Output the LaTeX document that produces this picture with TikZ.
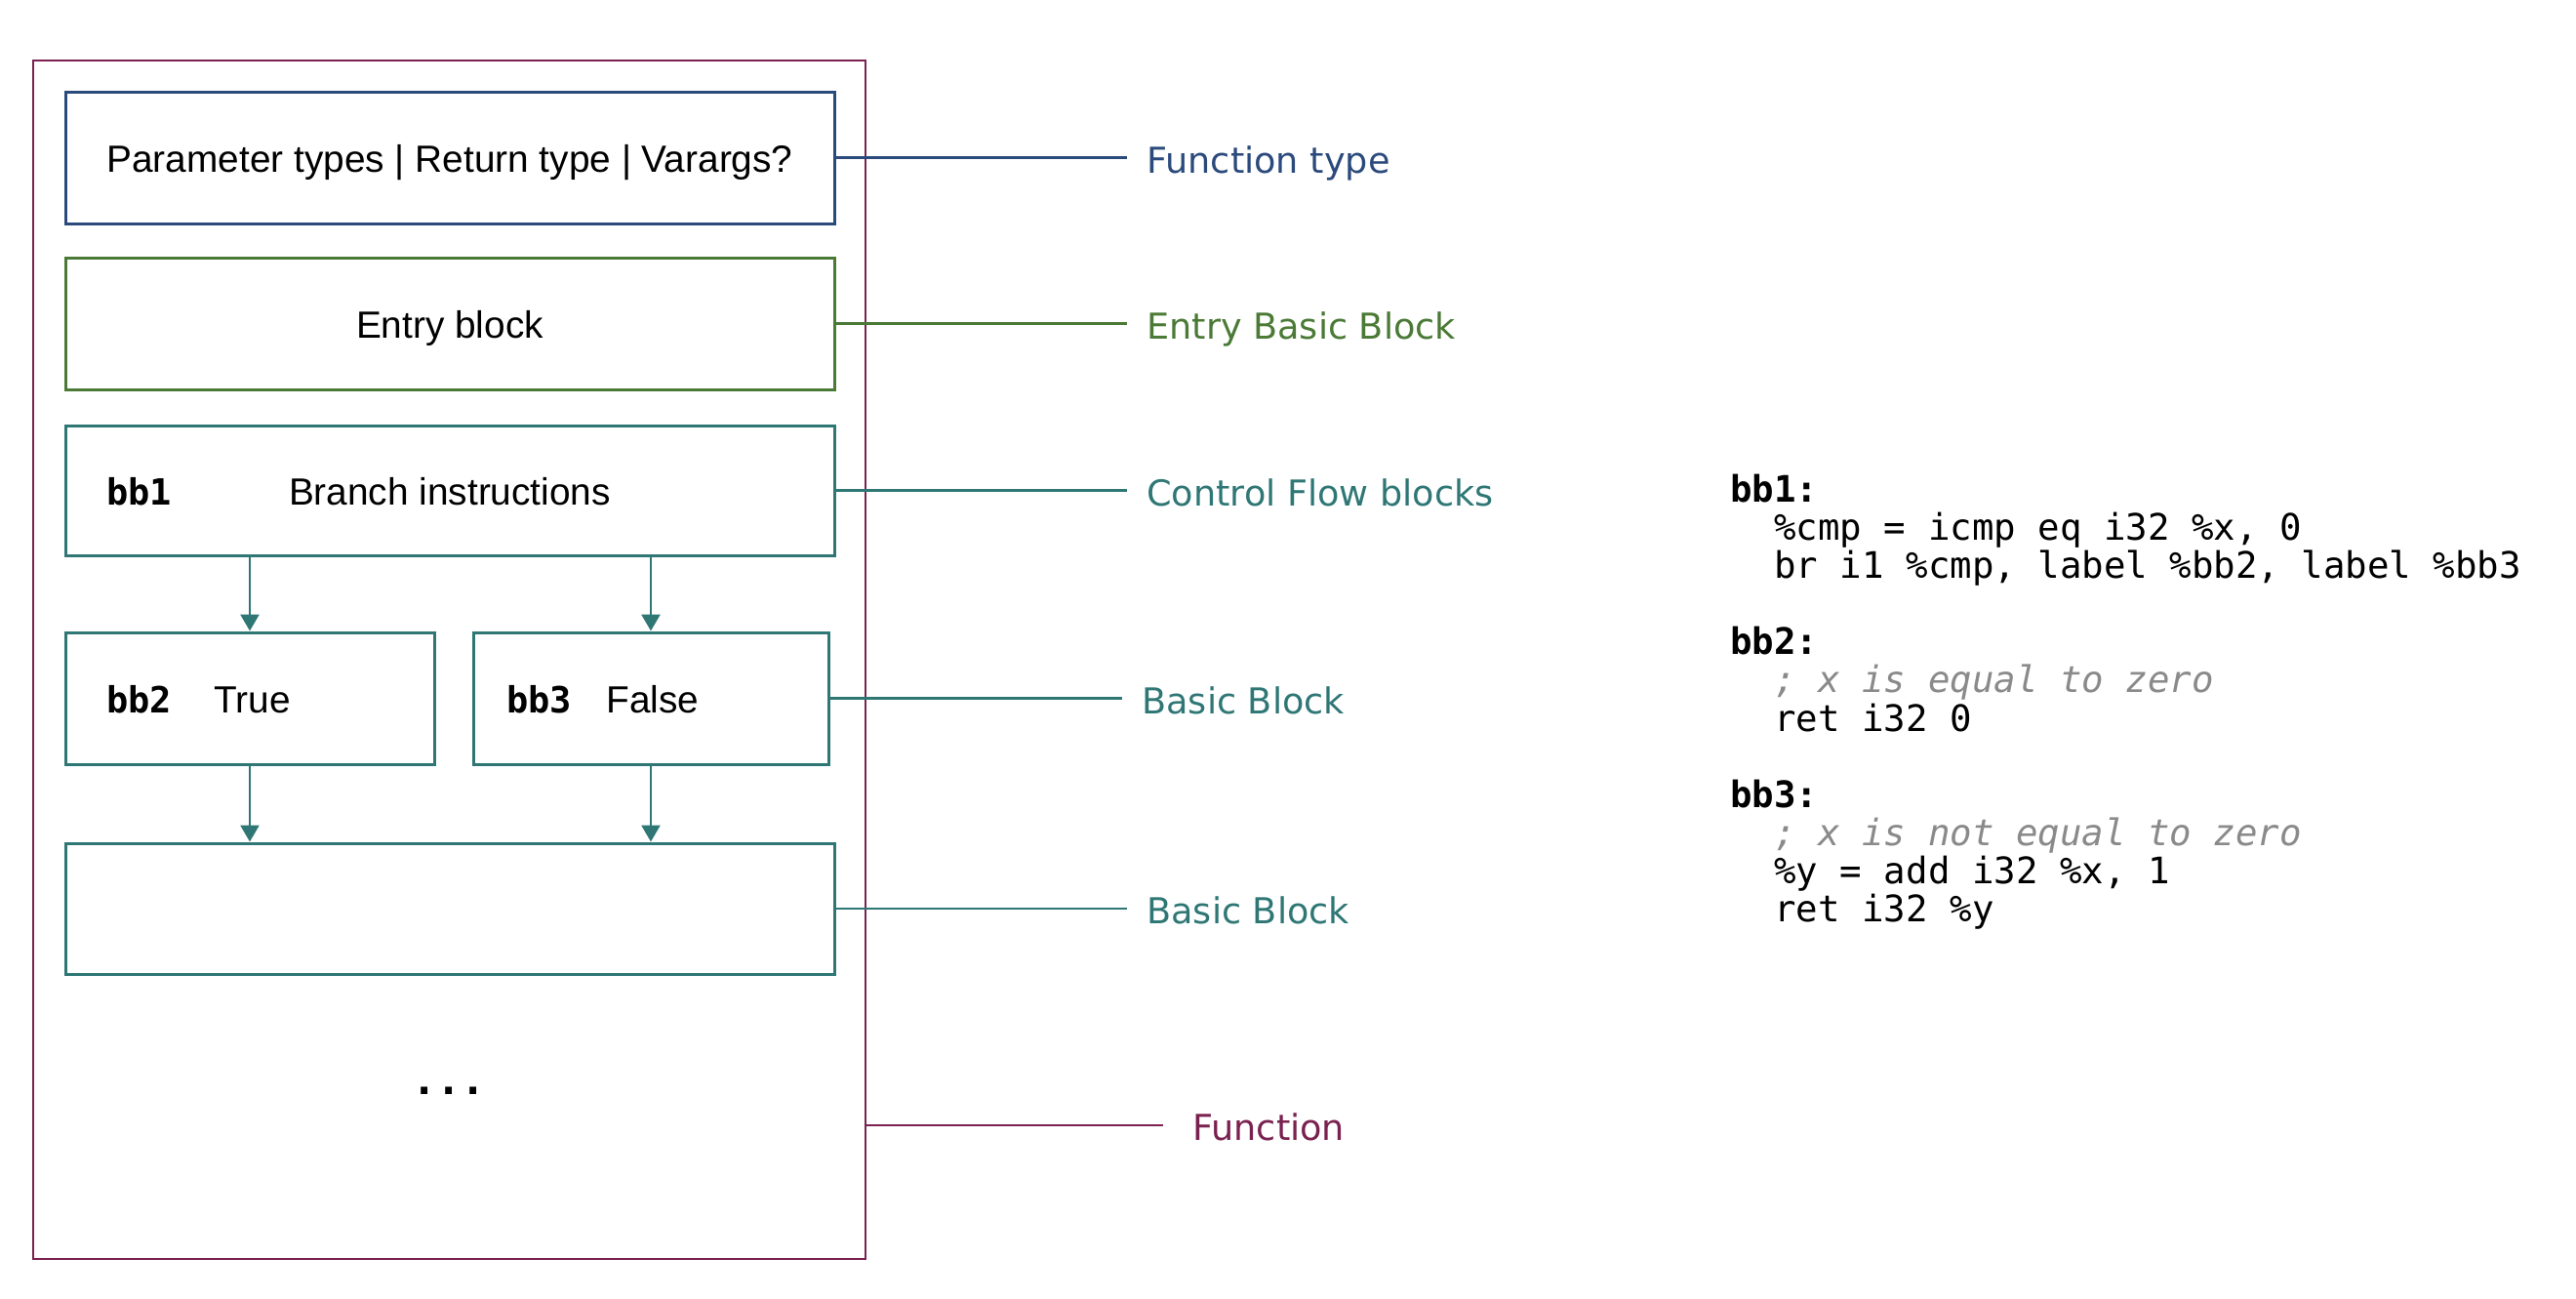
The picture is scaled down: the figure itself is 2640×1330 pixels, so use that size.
\documentclass[tikz,border=0pt]{standalone}
\usepackage{fontspec}
\setmainfont{Liberation Sans}
\newfontfamily\lblfont{DejaVu Sans}
\newfontfamily\codefont{DejaVu Sans Mono}
\usetikzlibrary{arrows.meta}
\definecolor{fncol}{HTML}{7A2150}
\definecolor{ftcol}{HTML}{2B4A7C}
\definecolor{encol}{HTML}{4A7A36}
\definecolor{tlcol}{HTML}{2F7775}
\definecolor{cmtcol}{HTML}{8A8A8A}
\begin{document}
\begin{tikzpicture}[x=0.5pt,y=-0.5pt,
 box/.style={draw, line width=1.5pt, rectangle, inner sep=0pt, text height=15.4pt, text depth=0pt,
   font=\fontsize{19.4pt}{22pt}\selectfont},
 boxtxt/.style={anchor=west, inner sep=0pt, text height=15.4pt, text depth=0pt,
   font=\fontsize{19.4pt}{22pt}\selectfont},
 boxtag/.style={anchor=west, inner sep=0pt, text height=15.4pt, text depth=0pt,
   font=\codefont\bfseries\fontsize{18.5pt}{22pt}\selectfont},
 lbl/.style={anchor=west, inner xsep=10pt, inner ysep=0pt, text height=15.5pt, text depth=0pt,
   font=\lblfont\fontsize{18.3pt}{20pt}\selectfont},
 link/.style={line width=1.3pt},
 flow/.style={line width=1.4pt, draw=tlcol, -{Triangle[width=9.5pt,length=8.5pt]}},
 code/.style={anchor=west, inner sep=0pt, text height=12.4pt, text depth=0pt,
   font=\codefont\fontsize{18.7pt}{19.4pt}\selectfont},
 cmt/.style={code, text=cmtcol, font=\codefont\itshape\fontsize{18.7pt}{19.4pt}\selectfont}
]
\useasboundingbox (0,0) rectangle (2640,1330);

% outer function box
\node[box, line width=1.3pt, draw=fncol, minimum width=426.5pt, minimum height=614pt] (fn) at (460.5,676) {};

% inner boxes
\node[box, draw=ftcol, minimum width=394pt, minimum height=67.5pt] (ft) at (461,161.5) {Parameter types | Return type | Varargs?};
\node[box, draw=encol, minimum width=394pt, minimum height=67.5pt] (en) at (461,331.5) {Entry block};
\node[box, draw=tlcol, minimum width=394pt, minimum height=66.5pt] (b1) at (461,502.5) {Branch instructions};
\node[box, draw=tlcol, minimum width=189pt, minimum height=67.5pt] (b2) at (256,715.5) {};
\node[box, draw=tlcol, minimum width=182pt, minimum height=67.5pt] (b3) at (667,715.5) {};
\node[box, draw=tlcol, minimum width=394pt, minimum height=67pt] (b4) at (461,931) {};

\node[boxtag] (b1tag) at (109,502.5) {bb1};
\node[boxtag] (b2tag) at (109,715.5) {bb2};
\node[boxtxt] (b2txt) at (219,715.5) {True};
\node[boxtag] (b3tag) at (519,715.5) {bb3};
\node[boxtxt] (b3txt) at (621,715.5) {False};
\node[anchor=base, inner sep=0pt, font=\codefont\bfseries\fontsize{21pt}{21pt}\selectfont] (dots) at (460,1121) {...};

% flow arrows
\draw[flow] (b2.north |- b1.south) -- (b2.north);
\draw[flow] (b3.north |- b1.south) -- (b3.north);
\draw[flow] (b2.south) -- (b2.south |- b4.north);
\draw[flow] (b3.south) -- (b3.south |- b4.north);

% labels
\node[lbl, text=ftcol] (ftl) at (1155,161.5) {Function type};
\draw[link, draw=ftcol] (ft.east) -- (ftl.west);
\node[lbl, text=encol] (enl) at (1155,331.5) {Entry Basic Block};
\draw[link, draw=encol] (en.east) -- (enl.west);
\node[lbl, text=tlcol] (b1l) at (1155,502.5) {Control Flow blocks};
\draw[link, draw=tlcol] (b1.east) -- (b1l.west);
\node[lbl, text=tlcol] (b3l) at (1150,715.5) {Basic Block};
\draw[link, draw=tlcol] (b3.east) -- (b3l.west);
\node[lbl, text=tlcol] (b4l) at (1155,931) {Basic Block};
\draw[link, draw=tlcol] (b4.east) -- (b4l.west);
\node[lbl, inner xsep=15pt, text=fncol] (fnl) at (1192,1153) {Function};
\draw[link, draw=fncol] (fn.east |- fnl.west) -- (fnl.west);

% code listing
\node[code] (c0) at (1773,501.7) {\textbf{bb1:}};
\node[code] (c1) at (1818,540.9) {\%cmp = icmp eq i32 \%x, 0};
\node[code] (c2) at (1818,580.0) {br i1 \%cmp, label \%bb2, label \%bb3};
\node[code] (c4) at (1773,658.3) {\textbf{bb2:}};
\node[cmt] (c5) at (1818,697.5) {; x is equal to zero};
\node[code] (c6) at (1818,736.6) {ret i32 0};
\node[code] (c8) at (1773,814.9) {\textbf{bb3:}};
\node[cmt] (c9) at (1818,854.1) {; x is not equal to zero};
\node[code] (c10) at (1818,893.2) {\%y = add i32 \%x, 1};
\node[code] (c11) at (1818,932.4) {ret i32 \%y};
\end{tikzpicture}
\end{document}
